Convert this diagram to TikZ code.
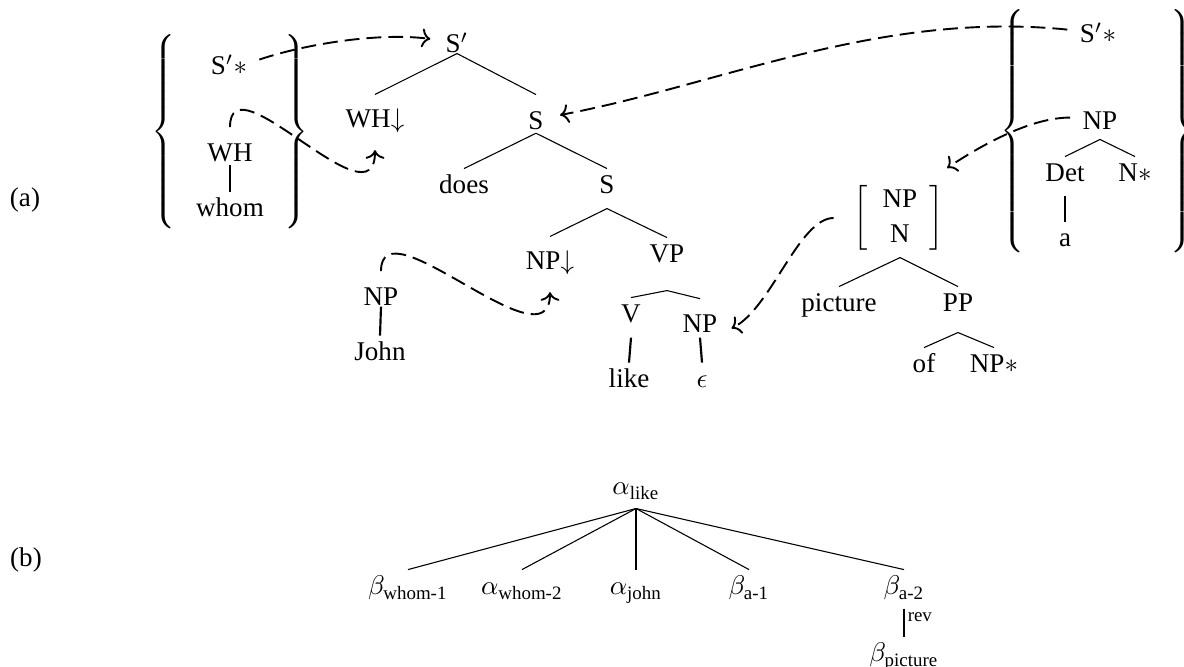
\documentclass[tikz,border=0pt]{standalone}
\usepackage{amsmath}
\usepackage{fontspec}
\setmainfont{Liberation Serif}
\usetikzlibrary{arrows.meta}

\begin{document}
\begin{tikzpicture}[x=1.3mm, y=-1.3mm,
    cat/.style={anchor=base, inner xsep=1pt, inner ysep=0pt, text height=9.2pt, text depth=0pt},
    brc/.style={inner sep=0pt},
    brk/.style={inner sep=0pt, outer sep=4pt},
    unary/.style={line width=0.8pt},
    link/.style={-{Computer Modern Rightarrow[length=3.2pt, width=7pt]}, line width=0.7pt, dash pattern=on 5.5pt off 2.6pt, shorten <=3.5pt, shorten >=4.5pt}]

        % fixing the page to the figure size
        \useasboundingbox (0,0) rectangle (118.4,66.7);

        % labels of the two parts
        \node[cat] (la) at (2.5,20.7) {(a)};
        \node[cat] (lb) at (2.6,56.6) {(b)};

        % the left set of auxiliary trees
        \node[brc] (lgl) at (16.5,13.2) {$\left\{\vrule height 38.5pt depth 33.5pt width 0pt\right.$};
        \node[brc] (lgr) at (29.5,13.2) {$\left.\vrule height 38.5pt depth 33.5pt width 0pt\right\}$};
        \node[cat] (lsb) at (22.9,7.5) {S$'{*}$};
        \node[cat] (wh) at (23,16.2) {WH};
        \node[cat] (whom) at (23,21.7) {whom};
        \draw[unary] ([yshift=-1pt]wh.south) -- (whom.north);

        % the elementary tree of like
        \node[cat] (sbar) at (45.7,5.3) {S$'$};
        \node[cat] (whd) at (37.5,12.8) {WH$\downarrow$};
        \node[cat] (s1) at (53.6,13) {S};
        \node[cat] (does) at (46.4,19.4) {does};
        \node[cat] (s2) at (60.7,19.4) {S};
        \node[cat] (npd) at (55,27) {NP$\downarrow$};
        \node[cat] (vp) at (66.7,26.3) {VP};
        \node[cat] (v) at (63.1,32.3) {V};
        \node[cat] (npe) at (70,33.3) {NP};
        \node[cat] (like) at (62.9,38.8) {like};
        \node[cat] (eps) at (70.2,38.8) {$\epsilon$};
        \draw (sbar.south) -- ([yshift=3pt]whd.north);
        \draw (sbar.south) -- ([yshift=3.7pt]s1.north);
        \draw ([yshift=-1pt]s1.south) -- (does.north);
        \draw ([yshift=-1pt]s1.south) -- (s2.north);
        \draw ([yshift=-5.2pt]s2.south) -- ([yshift=3pt]npd.north);
        \draw ([yshift=-5.2pt]s2.south) -- (vp.north);
        \draw ([yshift=-10pt]vp.south) -- (v.north);
        \draw ([yshift=-10pt]vp.south) -- ([yshift=3.3pt]npe.north);
        \draw[unary] ([yshift=-5.2pt]v.south) -- (like.north);
        \draw[unary] ([yshift=-1.5pt]npe.south) -- (eps.north);

        % the tree of John
        \node[cat] (npj) at (38.1,30.6) {NP};
        \node[cat] (john) at (38,36.1) {John};
        \draw[unary] (npj.south) -- (john.north);

        % the right set of auxiliary trees
        \node[brc] (rgl) at (101.4,13.1) {$\left\{\vrule height 47.5pt depth 42.5pt width 0pt\right.$};
        \node[brc] (rgr) at (118.1,13.1) {$\left.\vrule height 47.5pt depth 42.5pt width 0pt\right\}$};
        \node[cat] (rsb) at (109.8,4.3) {S$'{*}$};
        \node[cat] (npr) at (110,13) {NP};
        \node[cat] (det) at (106.5,18.2) {Det};
        \node[cat] (nst) at (113.5,18.2) {N$*$};
        \node[cat] (a) at (106.5,24.7) {a};
        \draw ([yshift=-3.3pt]npr.south) -- (det.north);
        \draw ([yshift=-3.3pt]npr.south) -- (nst.north);
        \draw[unary] ([yshift=-4.8pt]det.south) -- (a.north);

        % the tree of picture
        \node[brk] (bkl) at (86.1,21.8) {$\bigg[$};
        \node[brk] (bkr) at (93.7,21.8) {$\bigg]$};
        \node[cat] (bnp) at (90,20.8) {NP};
        \node[cat] (bn) at (90,24.3) {N};
        \node[cat] (pic) at (83.9,31.2) {picture};
        \node[cat] (pp) at (95.8,31.2) {PP};
        \node[cat] (of) at (92.4,37.3) {of};
        \node[cat] (nps) at (99.4,37.3) {NP$*$};
        \draw ([yshift=-5.2pt]bn.south) -- (pic.north);
        \draw ([yshift=-5.2pt]bn.south) -- (pp.north);
        \draw ([yshift=-7.4pt]pp.south) -- (of.north);
        \draw ([yshift=-7.4pt]pp.south) -- (nps.north);

        % the links between the trees
        \draw[link] (lsb.east) .. controls +(6,-2) and +(-6,-0.8) .. (sbar.west);
        \draw[link, shorten >=8pt] (wh.north) .. controls +(0,-8) and +(0,10) .. (whd.south);
        \draw[link, shorten >=8pt] (npj.north) .. controls +(0,-8) and +(0,10) .. (npd.south);
        \draw[link, shorten >=5pt] (rsb.west) .. controls +(-19.7,-2) and +(17.4,-3.3) .. (s1.east);
        \draw[link] (npr.west) .. controls +(-5,0) and +(4.2,-2.8) .. (bkr.north);
        \draw[link] (bkl.west) .. controls +(-4.4,0) and +(5,-2.4) .. (npe.south east);

        % the derivation tree
        \node[cat] (alike) at (63.6,49.5) {$\alpha_{\text{like}}$};
        \node[cat] (bw1) at (40.8,59.5) {$\beta_{\text{whom-1}}$};
        \node[cat] (aw2) at (52.2,59.5) {$\alpha_{\text{whom-2}}$};
        \node[cat] (ajohn) at (63.6,59.5) {$\alpha_{\text{john}}$};
        \node[cat] (ba1) at (74.9,59.5) {$\beta_{\text{a-1}}$};
        \node[cat] (ba2) at (90.4,59.5) {$\beta_{\text{a-2}}$};
        \node[cat] (bpic) at (90.4,66.2) {$\beta_{\text{picture}}$};
        \foreach \c in {bw1,aw2,ba1,ba2}
            \draw ([yshift=-4.8pt]alike.south) -- (\c.north);
        \draw[unary] ([yshift=-4.8pt]alike.south) -- (ajohn.north);
        \draw[unary] ([yshift=-4.8pt]ba2.south) -- (bpic.north) node[pos=.3, right, font=\scriptsize, inner sep=1pt] {rev};
\end{tikzpicture}
\end{document}
